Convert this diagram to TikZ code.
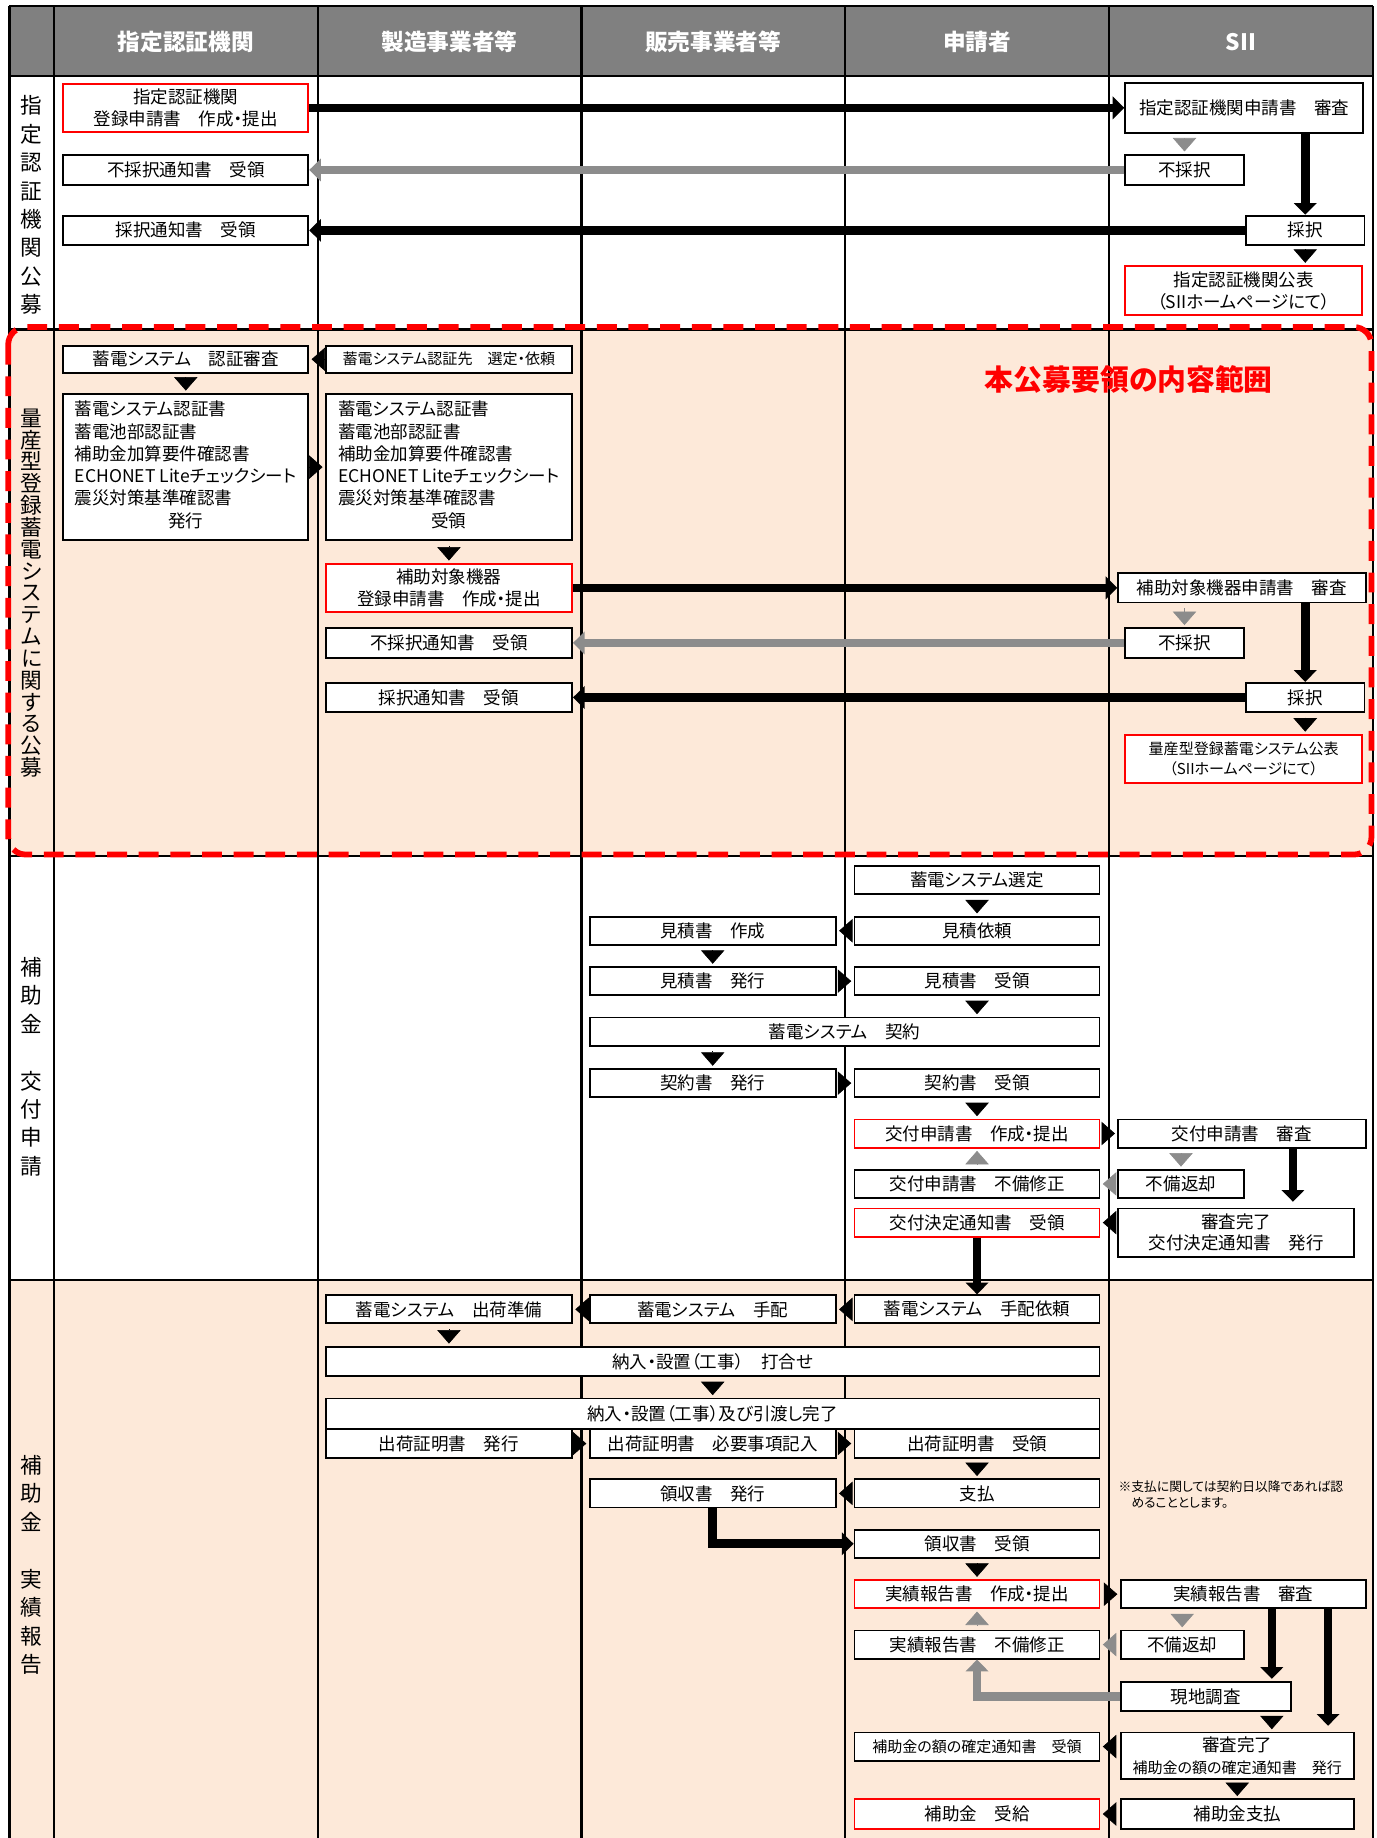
\documentclass[tikz,border=0pt]{standalone}
\usepackage{fontspec}
\setmainfont{Noto Sans CJK JP}[RawFeature=+palt]
\usetikzlibrary{arrows.meta}

\begin{document}
\begin{tikzpicture}[x=0.02cm, y=-0.02cm,
    box/.style={draw, line width=0.9pt, fill=white, inner sep=1pt, align=center,
        font=\fontsize{8.5}{10.5}\selectfont},
    redbox/.style={box, draw=red},
    smalltxt/.style={font=\fontsize{7.3}{9.6}\selectfont},
    sz/.style 2 args={minimum width=#1*0.02cm, minimum height=#2*0.02cm},
    lanehead/.style={text=white, font=\bfseries\fontsize{11}{13}\selectfont},
    phase/.style={align=center, font=\fontsize{10.5}{13.8}\selectfont},
    bigarr/.style={line width=4.2pt, -{Triangle[length=0.2cm, width=0.38cm]}},
    grayarr/.style={bigarr, draw=tipgray},
    arrhead/.style={line width=0.3pt, -{Triangle[length=0.23cm, width=0.4cm]},
        shorten <=0.08cm, shorten >=0.04cm},
    grayhead/.style={arrhead, draw=tipgray}]
    \definecolor{peach}{RGB}{253,233,217}
    \definecolor{headgray}{RGB}{128,128,128}
    \definecolor{tipgray}{RGB}{140,140,140}

    \useasboundingbox (0,0) rectangle (1174,1568);

    % lanes and phases
    \fill[peach] (8,281) rectangle (1171,730);
    \fill[peach] (8,1092) rectangle (1171,1568);
    \fill[headgray] (8,5) rectangle (1171,65);
    \foreach \x in {8,46,271,496,721,946,1171}
        \draw[line width=1.1pt] (\x,5) -- (\x,1568);
    \foreach \y in {5,65,281,730,1092}
        \draw[line width=1.1pt] (8,\y) -- (1171,\y);

    \node[lanehead] (hcert) at (158.5,36) {指定認証機関};
    \node[lanehead] (hmaker) at (383.5,36) {製造事業者等};
    \node[lanehead] (hseller) at (608.5,36) {販売事業者等};
    \node[lanehead] (happ) at (833.5,36) {申請者};
    \node[lanehead] (hsii) at (1058.5,36) {SII};

    \node[phase] (ph1) at (27,175) {指\\定\\認\\証\\機\\関\\公\\募};
    \node[phase, font=\fontsize{10.5}{10.6}\selectfont] (ph2) at (27,506)
        {量\\産\\型\\登\\録\\蓄\\電\\シ\\ス\\テ\\ム\\に\\関\\す\\る\\公\\募};
    \node[phase] (ph3) at (27,910) {補\\助\\金\\　\\交\\付\\申\\請};
    \node[phase] (ph4) at (27,1335) {補\\助\\金\\　\\実\\績\\報\\告};

    % phase 1
    \node[redbox, sz={209}{41}] (s1reg) at (158.5,92) {指定認証機関\\登録申請書　作成・提出};
    \node[box, sz={209}{25}] (s1ngr) at (158.5,145) {不採択通知書　受領};
    \node[box, sz={209}{25}] (s1okr) at (158.5,196.5) {採択通知書　受領};
    \node[box, sz={203}{43}] (s1rev) at (1061.5,92) {指定認証機関申請書　審査};
    \node[box, sz={101}{26}] (s1ng) at (1010.5,145) {不採択};
    \node[box, sz={101}{25}] (s1ok) at (1113.5,196.5) {採択};
    \node[redbox, sz={202}{42}] (s1pub) at (1061,248) {指定認証機関公表\\（SIIホームページにて）};

    \draw[bigarr] (s1reg.east) -- (s1rev.west);
    \draw[grayarr] (s1ng.west) -- (s1ngr.east);
    \draw[bigarr] (s1ok.west) -- (s1okr.east);
    \draw[bigarr] (s1rev.south -| s1ok.north) -- (s1ok.north);
    \draw[grayhead] (s1rev.south -| s1ng.north) -- (s1ng.north);
    \draw[arrhead] (s1ok.south) -- (s1ok.south |- s1pub.north);

    % phase 2
    \node[box, sz={209}{23}] (s2cert) at (158.5,306.5) {蓄電システム　認証審査};
    \node[box, smalltxt, sz={210}{23}] (s2req) at (383,306.5) {蓄電システム認証先　選定・依頼};
    \node[box, sz={209}{125}, font=\fontsize{8.5}{10.8}\selectfont] (s2issue) at (158.5,398.5)
        {\begin{tabular}{@{}l@{}}蓄電システム認証書\\蓄電池部認証書\\補助金加算要件確認書\\
        ECHONET Liteチェックシート\\震災対策基準確認書\\\multicolumn{1}{@{}c@{}}{発行}\end{tabular}};
    \node[box, sz={210}{125}, font=\fontsize{8.5}{10.8}\selectfont] (s2recv) at (383,398.5)
        {\begin{tabular}{@{}l@{}}蓄電システム認証書\\蓄電池部認証書\\補助金加算要件確認書\\
        ECHONET Liteチェックシート\\震災対策基準確認書\\\multicolumn{1}{@{}c@{}}{受領}\end{tabular}};
    \node[redbox, sz={210}{41}] (s2reg) at (383,501.5) {補助対象機器\\登録申請書　作成・提出};
    \node[box, sz={210}{25}] (s2ngr) at (383,548.5) {不採択通知書　受領};
    \node[box, sz={210}{25}] (s2okr) at (383,595) {採択通知書　受領};
    \node[box, sz={211}{25}] (s2rev) at (1059.5,501.5) {補助対象機器申請書　審査};
    \node[box, sz={101}{25}] (s2ng) at (1010.5,548.5) {不採択};
    \node[box, sz={101}{25}] (s2ok) at (1113.5,595) {採択};
    \node[redbox, smalltxt, sz={202}{41}] (s2pub) at (1061,647.5) {量産型登録蓄電システム公表\\（SIIホームページにて）};
    \node[text=red, font=\bfseries\fontsize{14}{16}\selectfont] (scope) at (963,324) {本公募要領の内容範囲};

    \draw[arrhead] (s2req.west) -- (s2cert.east);
    \draw[arrhead] (s2cert.south) -- (s2issue.north);
    \draw[arrhead] (s2issue.east) -- (s2recv.west);
    \draw[arrhead] (s2recv.south) -- (s2reg.north);
    \draw[bigarr] (s2reg.east) -- (s2rev.west);
    \draw[grayarr] (s2ng.west) -- (s2ngr.east);
    \draw[bigarr] (s2ok.west) -- (s2okr.east);
    \draw[bigarr] (s2rev.south -| s2ok.north) -- (s2ok.north);
    \draw[grayhead] (s2rev.south -| s2ng.north) -- (s2ng.north);
    \draw[arrhead] (s2ok.south) -- (s2ok.south |- s2pub.north);

    % phase 3
    \node[box, sz={209}{24}] (s3sel) at (833.5,751) {蓄電システム選定};
    \node[box, sz={209}{24}] (s3qreq) at (833.5,794) {見積依頼};
    \node[box, sz={210}{24}] (s3qmk) at (608,794) {見積書　作成};
    \node[box, sz={210}{24}] (s3qiss) at (608,837) {見積書　発行};
    \node[box, sz={209}{24}] (s3qrcv) at (833.5,837) {見積書　受領};
    \node[box, sz={435}{24}] (s3ctr) at (720.5,880) {蓄電システム　契約};
    \node[box, sz={210}{24}] (s3ciss) at (608,924) {契約書　発行};
    \node[box, sz={209}{24}] (s3crcv) at (833.5,924) {契約書　受領};
    \node[redbox, sz={209}{24}] (s3app) at (833.5,967) {交付申請書　作成・提出};
    \node[box, sz={211}{24}] (s3rev) at (1059.5,967) {交付申請書　審査};
    \node[box, sz={209}{24}] (s3fix) at (833.5,1010) {交付申請書　不備修正};
    \node[box, sz={107}{24}] (s3ret) at (1007.5,1010) {不備返却};
    \node[redbox, sz={209}{24}] (s3dec) at (833.5,1043) {交付決定通知書　受領};
    \node[box, sz={201}{41}] (s3done) at (1054.5,1051.5) {審査完了\\交付決定通知書　発行};
    \coordinate (c3) at (1103,0);

    \draw[arrhead] (s3sel.south) -- (s3qreq.north);
    \draw[arrhead] (s3qreq.west) -- (s3qmk.east);
    \draw[arrhead] (s3qmk.south) -- (s3qiss.north);
    \draw[arrhead] (s3qiss.east) -- (s3qrcv.west);
    \draw[arrhead] (s3qrcv.south) -- (s3qrcv.south |- s3ctr.north);
    \draw[arrhead] (s3ctr.south -| s3ciss.north) -- (s3ciss.north);
    \draw[arrhead] (s3ciss.east) -- (s3crcv.west);
    \draw[arrhead] (s3crcv.south) -- (s3app.north);
    \draw[arrhead] (s3app.east) -- (s3rev.west);
    \draw[grayhead] (s3fix.north) -- (s3app.south);
    \draw[grayhead] (s3rev.south -| s3ret.north) -- (s3ret.north);
    \draw[grayhead] (s3ret.west) -- (s3fix.east);
    \draw[bigarr, shorten >=0.1cm] (s3rev.south -| c3) -- (s3done.north -| c3);
    \draw[arrhead] (s3done.west |- s3dec.east) -- (s3dec.east);

    % phase 4
    \node[box, sz={209}{24}] (s4oreq) at (833.5,1117) {蓄電システム　手配依頼};
    \node[box, sz={210}{24}] (s4ord) at (608,1117) {蓄電システム　手配};
    \node[box, sz={210}{24}] (s4prep) at (383,1117) {蓄電システム　出荷準備};
    \node[box, sz={660}{25}] (s4mtg) at (608,1161.5) {納入・設置（工事）　打合せ};
    \node[box, sz={660}{26}] (s4fin) at (608,1206) {納入・設置（工事）及び引渡し完了};
    \node[box, sz={210}{25}] (s4shi) at (383,1231.5) {出荷証明書　発行};
    \node[box, sz={210}{25}] (s4shf) at (608,1231.5) {出荷証明書　必要事項記入};
    \node[box, sz={209}{25}] (s4shr) at (833.5,1231.5) {出荷証明書　受領};
    \node[box, sz={210}{24}] (s4rci) at (608,1274) {領収書　発行};
    \node[box, sz={209}{24}] (s4pay) at (833.5,1274) {支払};
    \node[box, sz={209}{24}] (s4rcr) at (833.5,1317) {領収書　受領};
    \node[align=left, anchor=west, inner sep=0pt, font=\fontsize{6.2}{8}\selectfont] (s4note) at (954,1275)
        {※支払に関しては契約日以降であれば認\\　めることとします。};
    \node[redbox, sz={209}{24}] (s4rep) at (833.5,1360) {実績報告書　作成・提出};
    \node[box, sz={209}{24}] (s4rev) at (1060.5,1360) {実績報告書　審査};
    \node[box, sz={209}{24}] (s4fix) at (833.5,1403) {実績報告書　不備修正};
    \node[box, sz={105}{24}] (s4ret) at (1008.5,1403) {不備返却};
    \node[box, sz={145}{25}] (s4site) at (1028.5,1447.5) {現地調査};
    \node[box, smalltxt, sz={209}{24}] (s4amt) at (833.5,1490) {補助金の額の確定通知書　受領};
    \node[box, sz={199}{40}] (s4done) at (1055.5,1498)
        {審査完了\\{\fontsize{7.3}{9}\selectfont 補助金の額の確定通知書　発行}};
    \node[redbox, sz={209}{25}] (s4recv) at (833.5,1547.5) {補助金　受給};
    \node[box, sz={199}{25}] (s4paid) at (1055.5,1547.5) {補助金支払};
    \coordinate (c4a) at (1085,0);
    \coordinate (c4b) at (1133,0);

    \draw[bigarr] (s3dec.south) -- (s4oreq.north);
    \draw[arrhead] (s4oreq.west) -- (s4ord.east);
    \draw[arrhead] (s4ord.west) -- (s4prep.east);
    \draw[arrhead] (s4prep.south) -- (s4prep.south |- s4mtg.north);
    \draw[arrhead] (s4mtg.south) -- (s4fin.north);
    \draw[arrhead] (s4shi.east) -- (s4shf.west);
    \draw[arrhead] (s4shf.east) -- (s4shr.west);
    \draw[arrhead] (s4shr.south) -- (s4pay.north);
    \draw[arrhead] (s4pay.west) -- (s4rci.east);
    \draw[bigarr] (s4rci.south) |- (s4rcr.west);
    \draw[arrhead] (s4rcr.south) -- (s4rep.north);
    \draw[arrhead] (s4rep.east) -- (s4rev.west);
    \draw[grayhead] (s4fix.north) -- (s4rep.south);
    \draw[grayhead] (s4rev.south -| s4ret.north) -- (s4ret.north);
    \draw[grayhead] (s4ret.west) -- (s4fix.east);
    \draw[bigarr, shorten >=0.04cm] (s4rev.south -| c4a) -- (s4site.north -| c4a);
    \draw[bigarr, shorten >=0.1cm] (s4rev.south -| c4b) -- (s4done.north -| c4b);
    \draw[grayarr] (s4site.west) -| (s4fix.south);
    \draw[arrhead] (s4site.south -| c4a) -- (s4done.north -| c4a);
    \draw[arrhead] (s4done.west |- s4amt.east) -- (s4amt.east);
    \draw[arrhead] (s4done.south) -- (s4paid.north);
    \draw[arrhead] (s4paid.west) -- (s4recv.east);

    % scope of this call
    \draw[red, line width=2.8pt, dash pattern=on 0.34cm off 0.2cm, rounded corners=0.3cm]
        (7,279) rectangle (1170,729);
\end{tikzpicture}
\end{document}
